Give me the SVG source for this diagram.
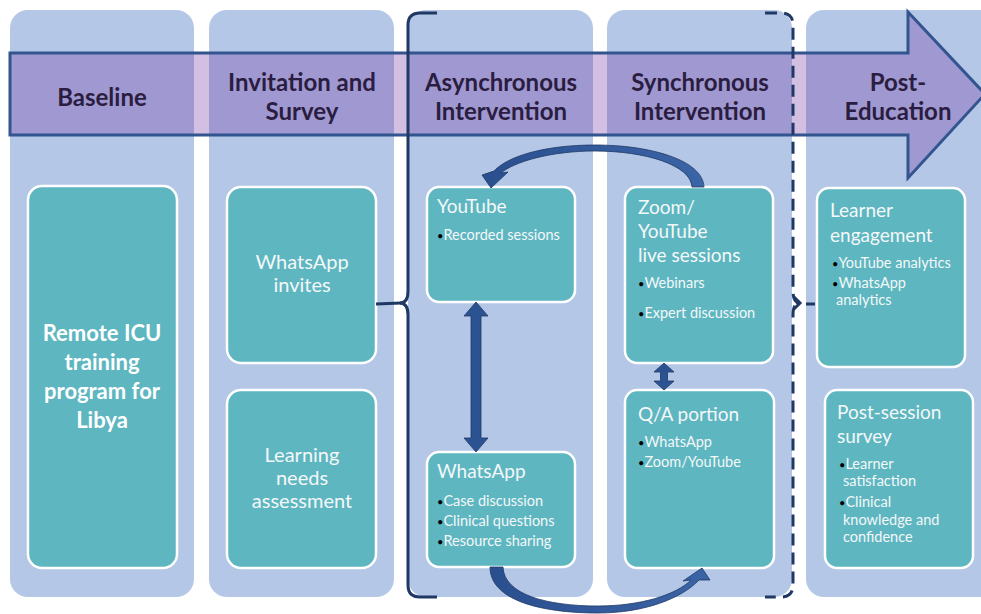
<svg xmlns="http://www.w3.org/2000/svg" width="981" height="614" viewBox="0 0 981 614">
  <style>
    .col { fill: #b4c7e7; }
    .box { fill: #5eb6c1; stroke: #ffffff; stroke-width: 2.5; }
    .phase { font-family: Lato, "Liberation Sans", sans-serif; font-weight: 700; font-size: 24px; fill: #2b1d40; text-anchor: middle; }
    .ctr { font-family: Lato, "Liberation Sans", sans-serif; font-size: 20px; fill: #f4f8f8; text-anchor: middle; }
    .bold { font-weight: 700; font-size: 22px; fill: #ffffff; }
    .ttl { font-family: Lato, "Liberation Sans", sans-serif; font-size: 19px; fill: #f4f8f8; }
    .itm { font-family: Lato, "Liberation Sans", sans-serif; font-size: 14.5px; fill: #f4f8f8; }
    .dot { fill: #000000; font-size: 11px; }
    .brace { fill: none; stroke: #1f3864; stroke-width: 3; }
    .blk { fill: #2c5391; stroke: #1f3864; stroke-width: 0.8; }
  </style>
  <defs>
    <linearGradient id="bandGrad" x1="0" y1="0" x2="1" y2="0">
      <stop offset="0" stop-color="#2a4f8f"/>
      <stop offset="1" stop-color="#3b64a6"/>
    </linearGradient>
  </defs>

  <rect width="981" height="614" fill="#ffffff"/>

  <!-- phase columns -->
  <g id="columns">
    <rect class="col" x="10" y="10" width="184" height="587" rx="18"/>
    <rect class="col" x="209" y="10" width="185" height="587" rx="18"/>
    <rect class="col" x="408" y="10" width="185" height="587" rx="18"/>
    <rect class="col" x="607" y="10" width="185" height="587" rx="18"/>
    <rect class="col" x="806" y="10" width="200" height="587" rx="18"/>
  </g>

  <!-- timeline arrow with phase titles -->
  <g id="timeline">
    <path d="M 10 53 H 908 V 12 L 985 94 L 908 178 V 135 H 10 Z" fill="#7030a0" fill-opacity="0.31" stroke="#33558f" stroke-width="3" stroke-linejoin="miter"/>
    <text class="phase" x="102" y="106">Baseline</text>
    <text class="phase" x="302" y="91">Invitation and</text>
    <text class="phase" x="302" y="120">Survey</text>
    <text class="phase" x="501" y="91">Asynchronous</text>
    <text class="phase" x="501" y="120">Intervention</text>
    <text class="phase" x="700" y="91">Synchronous</text>
    <text class="phase" x="700" y="120">Intervention</text>
    <text class="phase" x="898" y="91">Post-</text>
    <text class="phase" x="898" y="120">Education</text>
  </g>

  <!-- nodes -->
  <g id="node-remote-icu">
    <rect class="box" x="28" y="186" width="149" height="382" rx="14"/>
    <text class="ctr bold" x="102" y="341">Remote ICU</text>
    <text class="ctr bold" x="102" y="370">training</text>
    <text class="ctr bold" x="102" y="399">program for</text>
    <text class="ctr bold" x="102" y="428">Libya</text>
  </g>

  <g id="node-whatsapp-invites">
    <rect class="box" x="227" y="187" width="149" height="176" rx="14"/>
    <text class="ctr" x="302" y="269">WhatsApp</text>
    <text class="ctr" x="302" y="292">invites</text>
  </g>

  <g id="node-needs-assessment">
    <rect class="box" x="227" y="390" width="149" height="178" rx="14"/>
    <text class="ctr" x="302" y="462">Learning</text>
    <text class="ctr" x="302" y="485">needs</text>
    <text class="ctr" x="302" y="508">assessment</text>
  </g>

  <g id="node-youtube">
    <rect class="box" x="427" y="187" width="148" height="115" rx="12"/>
    <text class="ttl" x="437" y="213">YouTube</text>
    <text class="itm" x="437" y="240"><tspan class="dot">•</tspan>Recorded sessions</text>
  </g>

  <g id="node-whatsapp-async">
    <rect class="box" x="427" y="452" width="148" height="115" rx="12"/>
    <text class="ttl" x="437" y="478">WhatsApp</text>
    <text class="itm" x="437" y="506"><tspan class="dot">•</tspan>Case discussion</text>
    <text class="itm" x="437" y="526"><tspan class="dot">•</tspan>Clinical questions</text>
    <text class="itm" x="437" y="546"><tspan class="dot">•</tspan>Resource sharing</text>
  </g>

  <g id="node-live-sessions">
    <rect class="box" x="625" y="187" width="148" height="176" rx="12"/>
    <text class="ttl" x="638" y="214">Zoom/</text>
    <text class="ttl" x="638" y="238">YouTube</text>
    <text class="ttl" x="638" y="262">live sessions</text>
    <text class="itm" x="638" y="288"><tspan class="dot">•</tspan>Webinars</text>
    <text class="itm" x="638" y="318"><tspan class="dot">•</tspan>Expert discussion</text>
  </g>

  <g id="node-qa-portion">
    <rect class="box" x="625" y="390" width="149" height="178" rx="12"/>
    <text class="ttl" x="638" y="421">Q/A portion</text>
    <text class="itm" x="638" y="447"><tspan class="dot">•</tspan>WhatsApp</text>
    <text class="itm" x="638" y="467"><tspan class="dot">•</tspan>Zoom/YouTube</text>
  </g>

  <g id="node-learner-engagement">
    <rect class="box" x="817" y="188" width="148" height="179" rx="12"/>
    <text class="ttl" x="830" y="217">Learner</text>
    <text class="ttl" x="830" y="242">engagement</text>
    <text class="itm" x="832" y="268"><tspan class="dot">•</tspan>YouTube analytics</text>
    <text class="itm" x="832" y="288"><tspan class="dot">•</tspan>WhatsApp</text>
    <text class="itm" x="836" y="305">analytics</text>
  </g>

  <g id="node-post-session-survey">
    <rect class="box" x="825" y="390" width="148" height="178" rx="12"/>
    <text class="ttl" x="837" y="419">Post-session</text>
    <text class="ttl" x="837" y="443">survey</text>
    <text class="itm" x="839" y="469"><tspan class="dot">•</tspan>Learner</text>
    <text class="itm" x="843" y="486">satisfaction</text>
    <text class="itm" x="839" y="507"><tspan class="dot">•</tspan>Clinical</text>
    <text class="itm" x="843" y="525">knowledge and</text>
    <text class="itm" x="843" y="542">confidence</text>
  </g>

  <!-- connectors -->
  <g id="connectors">
    <!-- brace grouping the intervention phases -->
    <path class="brace" d="M 437 13 H 420 Q 408 13 408 25 V 291 Q 408 303 400 303 Q 408 303 408 315 V 585 Q 408 597 420 597 H 437"/>
    <line class="brace" x1="376" y1="304" x2="401" y2="303"/>
    <!-- dashed closing bracket -->
    <path class="brace" stroke-dasharray="12 7" d="M 765 13 H 781 Q 793 13 793 25 V 291 Q 793 303 800 303 Q 793 303 793 315 V 585 Q 793 597 781 597 H 765"/>
    <path class="brace" d="M 794 297 L 800 303 L 794 309"/>
    <line class="brace" x1="806" y1="304" x2="815" y2="304"/>

    <!-- live sessions back to recordings -->
    <path fill="url(#bandGrad)" stroke="#1f3864" stroke-width="0.8" d="M 704 187 C 703 160 650 145 595 145 C 545 145 508 156 494 171 L 482 175 L 491 188 L 508 172 L 501 173 C 514 162 550 151 595 151 C 645 151 691 165 692 187 Z"/>

    <!-- WhatsApp discussion into Q/A -->
    <path fill="url(#bandGrad)" stroke="#1f3864" stroke-width="0.8" d="M 490 567 C 490 600 540 613 598 613 C 645 613 682 598 699 580 L 710 580 L 702 568 L 683 581 L 691 580 C 676 595 640 606 598 606 C 548 606 504 595 503 567 Z"/>

    <!-- YouTube <-> WhatsApp -->
    <path class="blk" d="M 476 302 L 488 316 L 481 316 L 481 438 L 488 438 L 476 452 L 464 438 L 471 438 L 471 316 L 464 316 Z"/>

    <!-- live sessions <-> Q/A -->
    <path class="blk" d="M 664 363 L 674 372 L 667.5 372 L 667.5 381 L 674 381 L 664 390 L 654 381 L 660.5 381 L 660.5 372 L 654 372 Z"/>
  </g>
</svg>
